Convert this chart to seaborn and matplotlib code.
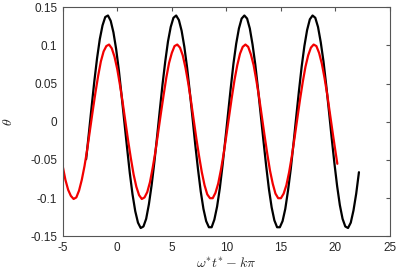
import numpy as np
import pandas as pd
import seaborn as sns
import matplotlib
matplotlib.use("Agg")
import matplotlib.pyplot as plt

# black curve (larger amplitude), x step 0.25
x_black = [round(-2.85 + 0.25 * i, 2) for i in range(101)]
theta_black = [-0.049, -0.015, 0.0195, 0.053, 0.083, 0.108, 0.126, 0.137, 0.139, 0.132,
               0.117, 0.095, 0.067, 0.034, 0.000, -0.034, -0.067, -0.095, -0.117, -0.132,
               -0.139, -0.137, -0.127, -0.108, -0.083, -0.053, -0.0196, 0.015, 0.049, 0.079,
               0.105, 0.124, 0.136, 0.139, 0.133, 0.119, 0.098, 0.071, 0.039, 0.005,
               -0.030, -0.062, -0.091, -0.114, -0.130, -0.138, -0.138, -0.128, -0.111, -0.087,
               -0.057, -0.024, 0.010, 0.044, 0.076, 0.102, 0.122, 0.135, 0.139, 0.135,
               0.122, 0.101, 0.075, 0.043, 0.009, -0.025, -0.058, -0.088, -0.112, -0.129,
               -0.138, -0.138, -0.130, -0.114, -0.090, -0.062, -0.029, 0.006, 0.040, 0.072,
               0.099, 0.120, 0.134, 0.139, 0.136, 0.124, 0.104, 0.079, 0.048, 0.014,
               -0.021, -0.054, -0.084, -0.109, -0.127, -0.137, -0.139, -0.132, -0.116, -0.094,
               -0.066]

# red curve (smaller amplitude)
x_red = [round(-5 + 0.25 * i, 2) for i in range(101)] + [20.17]
theta_red = [-0.058, -0.076, -0.089, -0.097, -0.101, -0.099, -0.090, -0.076, -0.058, -0.036,
             -0.011, 0.014, 0.038, 0.060, 0.079, 0.092, 0.099, 0.101, 0.096, 0.085,
             0.069, 0.048, 0.025, 0.000, -0.025, -0.048, -0.069, -0.085, -0.096, -0.101,
             -0.099, -0.092, -0.079, -0.060, -0.039, -0.014, 0.011, 0.035, 0.058, 0.077,
             0.090, 0.099, 0.101, 0.097, 0.087, 0.071, 0.051, 0.028, 0.003, -0.022,
             -0.045, -0.066, -0.083, -0.095, -0.100, -0.100, -0.093, -0.081, -0.063, -0.042,
             -0.018, 0.007, 0.032, 0.055, 0.074, 0.089, 0.098, 0.101, 0.098, 0.088,
             0.074, 0.054, 0.032, 0.007, -0.018, -0.042, -0.064, -0.081, -0.094, -0.100,
             -0.100, -0.094, -0.083, -0.066, -0.045, -0.021, 0.004, 0.029, 0.052, 0.072,
             0.087, 0.097, 0.101, 0.099, 0.090, 0.076, 0.057, 0.035, 0.010, -0.015,
             -0.039, -0.055]

x_ticks = [-5, 0, 5, 10, 15, 20, 25]
y_ticks = [-0.15, -0.1, -0.05, 0, 0.05, 0.1, 0.15]
y_labels = ["-0.15", "-0.1", "-0.05", "0", "0.05", "0.1", "0.15"]

df_b = pd.DataFrame({"x": x_black, "theta": theta_black})
df_r = pd.DataFrame({"x": x_red, "theta": theta_red})

sns.set_style("white")
plt.rcParams["font.family"] = ["Liberation Sans", "DejaVu Sans"]
plt.rcParams["mathtext.fontset"] = "cm"

fig = plt.figure(figsize=(3.98, 2.73), dpi=100)
ax = fig.add_axes([0.1575, 0.134, 0.8225, 0.84])

sns.lineplot(data=df_b, x="x", y="theta", ax=ax, color="black", lw=1.6, sort=False)
sns.lineplot(data=df_r, x="x", y="theta", ax=ax, color="#f20000", lw=1.6, sort=False)

ax.set_xlim(-5, 25)
ax.set_ylim(-0.15, 0.15)
ax.set_xticks(x_ticks)
ax.set_xticklabels([str(t) for t in x_ticks])
ax.set_yticks(y_ticks)
ax.set_yticklabels(y_labels)
ax.tick_params(direction="in", length=3, width=0.8, color="#555555", labelsize=8.5,
               labelcolor="#262626", top=True, right=True, pad=4)
for s in ax.spines.values():
    s.set_color("#555555")
    s.set_linewidth(0.8)

ax.set_xlabel(r"$\omega^{*}t^{*}-k\pi$", fontsize=10, labelpad=2)
ax.set_ylabel(r"$\theta$", fontsize=10, labelpad=11)

fig.savefig("out.png", dpi=100)
